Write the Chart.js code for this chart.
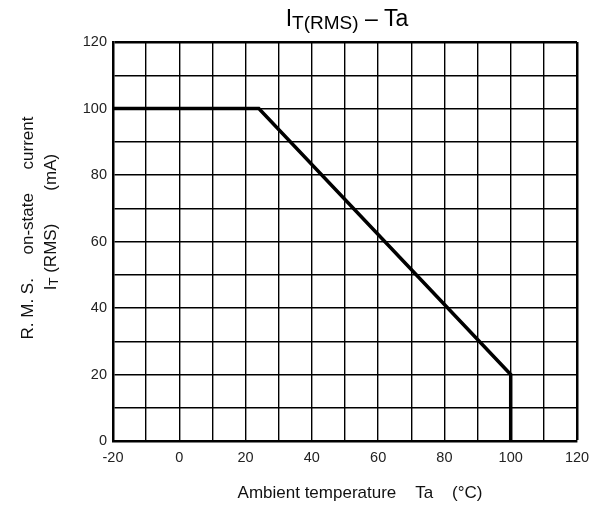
<!DOCTYPE html>
<html>
<head>
<meta charset="utf-8">
<script src="https://cdn.jsdelivr.net/npm/chart.js@4"></script>
<style>
  html, body { margin: 0; padding: 0; background: #fff; }
  #wrap { width: 603px; height: 506px; }
</style>
</head>
<body>
<div id="wrap"><canvas id="myChart" width="603" height="506"></canvas></div>
<script>
// derating curve
const temps = [-20, 24, 100, 100];
const current = [100, 100, 20, 0];
const xRange = [-20, 120];
const yRange = [0, 120];
const titleParts = ["I", "T(RMS)", " \u2013 Ta"];
const yTitle1 = "R. M. S.     on-state     current";
const yTitle2 = ["I", "T", " (RMS)       (mA)"];
const xTitle = "Ambient temperature    Ta    (\u00B0C)";

const FONT = "'Liberation Sans', Arial, sans-serif";

// draws a run of [text, size, dy] pieces centred on cx
function drawRun(ctx, parts, cx, base) {
    let total = 0;
    parts.forEach(p => { ctx.font = p[1] + "px " + FONT; total += ctx.measureText(p[0]).width; });
    let x = cx - total / 2;
    parts.forEach(p => {
        ctx.font = p[1] + "px " + FONT;
        ctx.fillText(p[0], x, base + p[2]);
        x += ctx.measureText(p[0]).width;
    });
}

const titlesPlugin = {
    id: 'titles',
    afterDraw(chart) {
        const ctx = chart.ctx;
        ctx.save();
        ctx.fillStyle = '#000';
        ctx.textBaseline = 'alphabetic';
        // chart title
        drawRun(ctx, [[titleParts[0], 23, 0], [titleParts[1], 19, 3], [titleParts[2], 23, 0]], 347, 26);
        // x axis title
        ctx.fillStyle = '#111';
        drawRun(ctx, [[xTitle, 17, 0]], 360, 498);
        // y axis title, two rotated lines
        ctx.save();
        ctx.translate(33, 228);
        ctx.rotate(-Math.PI / 2);
        drawRun(ctx, [[yTitle1, 17, 0]], 0, 0);
        ctx.restore();
        ctx.save();
        ctx.translate(56, 222);
        ctx.rotate(-Math.PI / 2);
        drawRun(ctx, [[yTitle2[0], 17, 0], [yTitle2[1], 13, 2], [yTitle2[2], 17, 0]], 0, 0);
        ctx.restore();
        ctx.restore();
    }
};

function edgeWidth(max) {
    return function(c) { return c.tick && c.tick.value === max ? 2.5 : 1.4; };
}

new Chart(document.getElementById('myChart'), {
    type: 'line',
    data: {
        datasets: [{
            data: temps.map((t, i) => ({x: t, y: current[i]})),
            borderColor: '#000',
            borderWidth: 3.5,
            pointRadius: 0,
            fill: false,
            tension: 0,
            borderJoinStyle: 'miter'
        }]
    },
    options: {
        responsive: false,
        animation: false,
        layout: { padding: { top: 42, right: 26, left: 0, bottom: 0 } },
        plugins: { legend: { display: false }, tooltip: { enabled: false } },
        scales: {
            x: {
                type: 'linear',
                min: xRange[0], max: xRange[1],
                border: { color: '#000', width: 2.5 },
                grid: { color: '#000', lineWidth: edgeWidth(xRange[1]), drawTicks: false },
                ticks: {
                    stepSize: 10, autoSkip: false, maxRotation: 0,
                    color: '#222', font: { family: FONT, size: 14.5 }, padding: 8,
                    callback: v => (v % 20 === 0 ? v : '')
                },
                afterFit(scale) { scale.height = 65; }
            },
            y: {
                min: yRange[0], max: yRange[1],
                border: { color: '#000', width: 2.5 },
                grid: { color: '#000', lineWidth: edgeWidth(yRange[1]), drawTicks: false },
                ticks: {
                    stepSize: 10, autoSkip: false,
                    color: '#222', font: { family: FONT, size: 14.5 }, padding: 6,
                    callback: v => (v % 20 === 0 ? v : '')
                },
                afterFit(scale) { scale.width = 113; }
            }
        }
    },
    plugins: [titlesPlugin]
});
</script>
</body>
</html>
